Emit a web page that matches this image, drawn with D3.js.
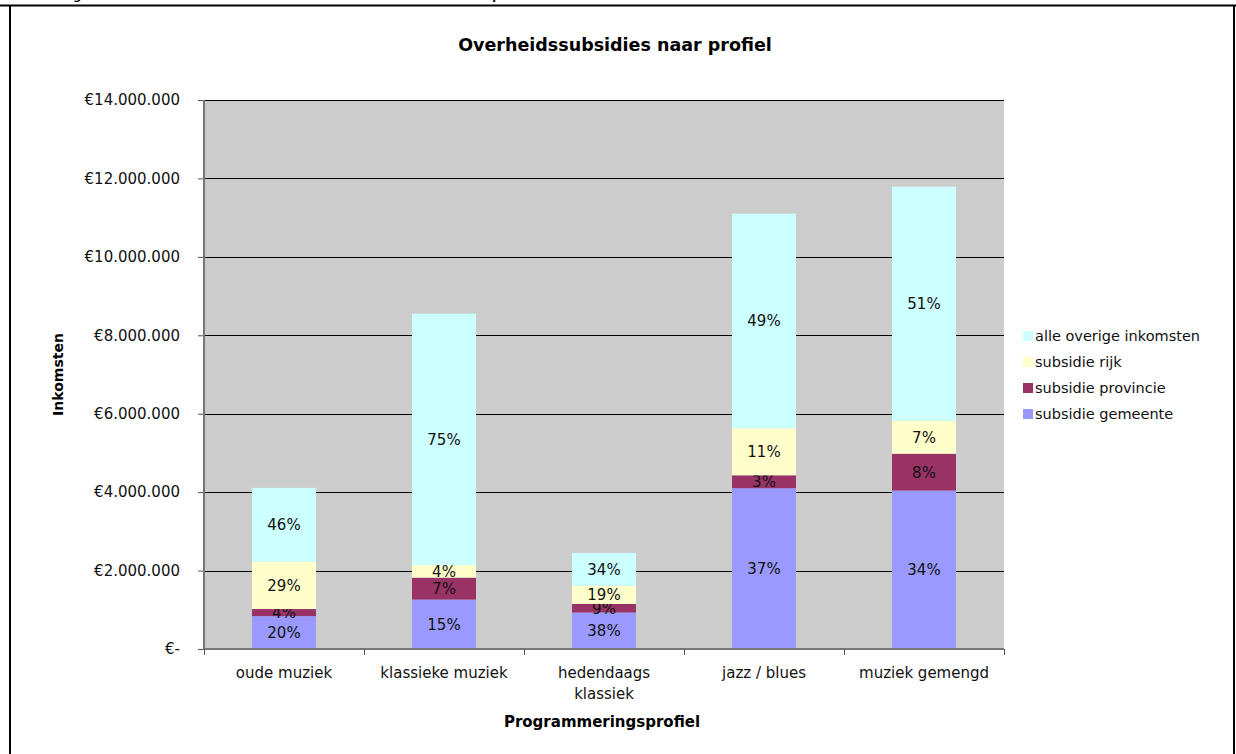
<!DOCTYPE html>
<html>
<head>
<meta charset="utf-8">
<script src="https://cdn.jsdelivr.net/npm/d3@7"></script>
<style>
  body { margin: 0; background: #fff; }
  svg { display: block; font-family: "DejaVu Sans", Verdana, sans-serif; }
</style>
</head>
<body>
<div id="chart"></div>
<script>
// data (euro)
const categories = ["oude muziek", "klassieke muziek", "hedendaags klassiek", "jazz / blues", "muziek gemengd"];
const seriesNames = ["subsidie gemeente", "subsidie provincie", "subsidie rijk", "alle overige inkomsten"];
const subsidieGemeente  = [838000, 1260000, 930000, 4100000, 4040000];
const subsidieProvincie = [181000, 560000, 220000, 330000, 940000];
const subsidieRijk      = [1208000, 320000, 460000, 1200000, 840000];
const overigeInkomsten  = [1883000, 6410000, 840000, 5470000, 5970000];
const yTicks = [0, 2000000, 4000000, 6000000, 8000000, 10000000, 12000000, 14000000];
const colors = ["#9999ff", "#993366", "#ffffcc", "#ccffff"];

const width = 1236, height = 754;
const margin = { top: 100, right: 232, bottom: 105, left: 204 };

const svg = d3.select("#chart").append("svg")
    .attr("width", width)
    .attr("height", height);

// kader van de figuur (bovenkant valt buiten beeld)
svg.append("text")
    .attr("x", 14).attr("y", 0)
    .attr("font-size", 11).attr("font-weight", "bold")
    .text("Afbeelding 5: Totale inkomsten en overheidssubsidies van muziekzalen naar profiel");
svg.append("line").attr("x1", 0).attr("x2", width).attr("y1", 5.5).attr("y2", 5.5)
    .attr("stroke", "#000").attr("stroke-width", 2);
svg.append("line").attr("x1", 10).attr("x2", 10).attr("y1", 5).attr("y2", height)
    .attr("stroke", "#000").attr("stroke-width", 2);
svg.append("line").attr("x1", 1234).attr("x2", 1234).attr("y1", 5).attr("y2", height)
    .attr("stroke", "#000").attr("stroke-width", 2);

svg.append("text")
    .attr("x", 615).attr("y", 51)
    .attr("text-anchor", "middle")
    .attr("font-size", 17.5).attr("font-weight", "bold")
    .text("Overheidssubsidies naar profiel");

const x = d3.scaleBand()
    .domain(categories)
    .range([margin.left, width - margin.right])
    .paddingInner(0.6).paddingOuter(0.3);

const y = d3.scaleLinear()
    .domain([0, 14000000])
    .range([height - margin.bottom, margin.top]);

// plot area
svg.append("rect")
    .attr("x", margin.left).attr("y", margin.top)
    .attr("width", width - margin.right - margin.left)
    .attr("height", height - margin.bottom - margin.top)
    .attr("fill", "#cccccc");

svg.append("g")
    .selectAll("line")
    .data(yTicks.slice(1))
    .join("line")
    .attr("x1", margin.left).attr("x2", width - margin.right)
    .attr("y1", d => Math.round(y(d)) + 0.5).attr("y2", d => Math.round(y(d)) + 0.5)
    .attr("stroke", "#000");

// stapels
const rows = categories.map((c, i) => ({
    cat: c,
    "subsidie gemeente": subsidieGemeente[i],
    "subsidie provincie": subsidieProvincie[i],
    "subsidie rijk": subsidieRijk[i],
    "alle overige inkomsten": overigeInkomsten[i]
}));
const stacked = d3.stack().keys(seriesNames)(rows);
const totals = rows.map(r => d3.sum(seriesNames, k => r[k]));

const layers = svg.append("g")
    .selectAll("g")
    .data(stacked)
    .join("g")
    .attr("fill", (d, i) => colors[i]);

layers.selectAll("rect")
    .data(d => d)
    .join("rect")
    .attr("x", d => x(d.data.cat))
    .attr("width", x.bandwidth())
    .attr("y", d => y(d[1]))
    .attr("height", d => y(d[0]) - y(d[1]));

const pct = d3.format(".0%");
layers.selectAll("text")
    .data(d => d.map(v => ({ v, key: d.key })))
    .join("text")
    .attr("x", d => x(d.v.data.cat) + x.bandwidth() / 2)
    .attr("y", d => (y(d.v[0]) + y(d.v[1])) / 2)
    .attr("dy", "0.36em")
    .attr("text-anchor", "middle")
    .attr("font-size", 15)
    .attr("fill", "#111")
    .text(d => pct(d.v.data[d.key] / totals[categories.indexOf(d.v.data.cat)]));

// y-as
const nl = d3.formatLocale({ decimal: ",", thousands: ".", grouping: [3], currency: ["€", ""] });
const euro = nl.format("$,.0f");
const yAxis = svg.append("g")
    .attr("transform", `translate(${margin.left},0)`)
    .call(d3.axisLeft(y).tickValues(yTicks).tickSize(6).tickPadding(18)
        .tickFormat(d => d === 0 ? "€-" : euro(d)))
    .attr("font-family", null).attr("font-size", null);
yAxis.select(".domain").remove();
yAxis.selectAll("line").attr("stroke", "#555").attr("stroke-width", 1);
yAxis.selectAll("text").attr("font-size", 15).attr("fill", "#111");
svg.append("line")
    .attr("x1", margin.left).attr("x2", margin.left)
    .attr("y1", margin.top).attr("y2", height - margin.bottom)
    .attr("stroke", "#777").attr("stroke-width", 2);

// x-as
const xAxis = svg.append("g")
    .attr("transform", `translate(0,${height - margin.bottom})`)
    .call(d3.axisBottom(x).tickSize(0).tickPadding(18))
    .attr("font-family", null).attr("font-size", null);
xAxis.select(".domain").remove();
xAxis.selectAll("text").attr("font-size", 15).attr("fill", "#111")
    .each(function(d) {
        const t = d3.select(this);
        const words = d.split(" ");
        if (this.getComputedTextLength() > 140 && words.length > 1) {
            t.text(null);
            words.forEach((w, i) => {
                t.append("tspan").attr("x", 0).attr("dy", i === 0 ? "0.71em" : "1.4em").text(w);
            });
        }
    });
svg.append("line")
    .attr("x1", margin.left - 1).attr("x2", width - margin.right)
    .attr("y1", height - margin.bottom).attr("y2", height - margin.bottom)
    .attr("stroke", "#777").attr("stroke-width", 2);
const bounds = categories.map(c => x(c) - x.step() * x.paddingInner() / 2).concat([width - margin.right]);
bounds[0] = margin.left;
svg.append("g").selectAll("line")
    .data(bounds)
    .join("line")
    .attr("x1", d => Math.round(d) + 0.5).attr("x2", d => Math.round(d) + 0.5)
    .attr("y1", height - margin.bottom).attr("y2", height - margin.bottom + 6)
    .attr("stroke", "#555");

// as-titels
svg.append("text")
    .attr("x", 602).attr("y", 727)
    .attr("text-anchor", "middle")
    .attr("font-size", 15).attr("font-weight", "bold")
    .text("Programmeringsprofiel");
svg.append("text")
    .attr("transform", `translate(63,${(margin.top + height - margin.bottom) / 2}) rotate(-90)`)
    .attr("text-anchor", "middle")
    .attr("font-size", 14).attr("font-weight", "bold")
    .text("Inkomsten");

// legenda
const legend = svg.append("g")
    .selectAll("g")
    .data(seriesNames.slice().reverse())
    .join("g")
    .attr("transform", (d, i) => `translate(1023,${336 + i * 26})`);
legend.append("rect")
    .attr("x", 0).attr("y", -5).attr("width", 10).attr("height", 10)
    .attr("fill", d => colors[seriesNames.indexOf(d)]);
legend.append("text")
    .attr("x", 12).attr("dy", "0.36em")
    .attr("font-size", 14.5).attr("fill", "#111")
    .text(d => d);
</script>
</body>
</html>
